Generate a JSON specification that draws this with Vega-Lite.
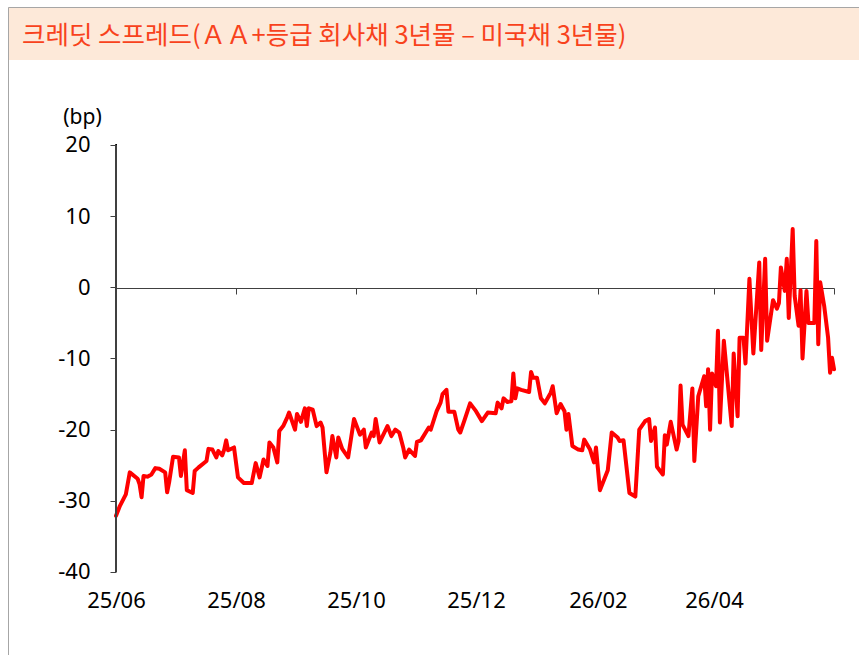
{
  "$schema": "https://vega.github.io/schema/vega-lite/v6.json",
  "background": "white",
  "padding": {"left": 8, "top": 7, "right": 0, "bottom": 0},
  "spacing": 0,
  "bounds": "flush",
  "config": {
    "view": {"stroke": null},
    "font": "Noto Sans",
    "locale": {"number": {"decimal": ".", "thousands": ",", "grouping": [3], "currency": ["", ""], "minus": "-"}}
  },
  "datasets": {
    "spread": [
      {"d": "2025-06-01", "v": -32.1}, {"d": "2025-06-03", "v": -30.7}, {"d": "2025-06-06", "v": -29.1}, {"d": "2025-06-08", "v": -26.0},
      {"d": "2025-06-12", "v": -26.9}, {"d": "2025-06-13", "v": -27.7}, {"d": "2025-06-14", "v": -29.5}, {"d": "2025-06-15", "v": -26.5},
      {"d": "2025-06-17", "v": -26.6}, {"d": "2025-06-19", "v": -26.3}, {"d": "2025-06-21", "v": -25.4}, {"d": "2025-06-23", "v": -25.5},
      {"d": "2025-06-26", "v": -26.0}, {"d": "2025-06-27", "v": -28.8}, {"d": "2025-06-28", "v": -27.4}, {"d": "2025-06-30", "v": -23.8},
      {"d": "2025-07-03", "v": -23.9}, {"d": "2025-07-04", "v": -26.5}, {"d": "2025-07-06", "v": -22.9}, {"d": "2025-07-07", "v": -28.5},
      {"d": "2025-07-10", "v": -28.9}, {"d": "2025-07-11", "v": -25.8}, {"d": "2025-07-13", "v": -25.3}, {"d": "2025-07-17", "v": -24.4},
      {"d": "2025-07-18", "v": -22.7}, {"d": "2025-07-20", "v": -22.8}, {"d": "2025-07-22", "v": -23.9}, {"d": "2025-07-23", "v": -23.0},
      {"d": "2025-07-25", "v": -23.6}, {"d": "2025-07-26", "v": -22.8}, {"d": "2025-07-27", "v": -21.5}, {"d": "2025-07-28", "v": -22.9},
      {"d": "2025-07-31", "v": -22.5}, {"d": "2025-08-02", "v": -26.7}, {"d": "2025-08-05", "v": -27.5}, {"d": "2025-08-09", "v": -27.5},
      {"d": "2025-08-11", "v": -24.7}, {"d": "2025-08-13", "v": -26.7}, {"d": "2025-08-15", "v": -24.2}, {"d": "2025-08-17", "v": -25.1},
      {"d": "2025-08-18", "v": -21.8}, {"d": "2025-08-20", "v": -22.5}, {"d": "2025-08-22", "v": -24.6}, {"d": "2025-08-23", "v": -20.2},
      {"d": "2025-08-25", "v": -19.5}, {"d": "2025-08-27", "v": -18.3}, {"d": "2025-08-28", "v": -17.6}, {"d": "2025-08-31", "v": -20.0},
      {"d": "2025-09-01", "v": -17.8}, {"d": "2025-09-03", "v": -18.9}, {"d": "2025-09-05", "v": -17.0}, {"d": "2025-09-06", "v": -19.5},
      {"d": "2025-09-07", "v": -17.0}, {"d": "2025-09-09", "v": -17.2}, {"d": "2025-09-11", "v": -19.5}, {"d": "2025-09-13", "v": -19.0},
      {"d": "2025-09-14", "v": -19.7}, {"d": "2025-09-16", "v": -26.0}, {"d": "2025-09-18", "v": -23.2}, {"d": "2025-09-19", "v": -20.9},
      {"d": "2025-09-21", "v": -23.9}, {"d": "2025-09-22", "v": -21.1}, {"d": "2025-09-24", "v": -22.7}, {"d": "2025-09-27", "v": -23.9},
      {"d": "2025-09-30", "v": -18.5}, {"d": "2025-10-03", "v": -20.7}, {"d": "2025-10-05", "v": -20.0}, {"d": "2025-10-06", "v": -22.5},
      {"d": "2025-10-09", "v": -20.4}, {"d": "2025-10-10", "v": -20.9}, {"d": "2025-10-11", "v": -18.5}, {"d": "2025-10-13", "v": -21.8},
      {"d": "2025-10-17", "v": -19.5}, {"d": "2025-10-19", "v": -20.9}, {"d": "2025-10-21", "v": -20.0}, {"d": "2025-10-23", "v": -20.4},
      {"d": "2025-10-25", "v": -22.5}, {"d": "2025-10-26", "v": -23.9}, {"d": "2025-10-28", "v": -22.8}, {"d": "2025-10-31", "v": -23.7},
      {"d": "2025-11-01", "v": -21.7}, {"d": "2025-11-03", "v": -21.5}, {"d": "2025-11-07", "v": -19.7}, {"d": "2025-11-08", "v": -20.0},
      {"d": "2025-11-11", "v": -17.4}, {"d": "2025-11-13", "v": -16.2}, {"d": "2025-11-14", "v": -15.0}, {"d": "2025-11-16", "v": -14.4},
      {"d": "2025-11-17", "v": -17.5}, {"d": "2025-11-20", "v": -17.5}, {"d": "2025-11-22", "v": -20.0}, {"d": "2025-11-23", "v": -20.4},
      {"d": "2025-11-25", "v": -18.8}, {"d": "2025-11-28", "v": -16.3}, {"d": "2025-12-01", "v": -17.4}, {"d": "2025-12-04", "v": -18.8},
      {"d": "2025-12-07", "v": -17.6}, {"d": "2025-12-11", "v": -17.7}, {"d": "2025-12-12", "v": -16.2}, {"d": "2025-12-14", "v": -17.0},
      {"d": "2025-12-15", "v": -15.6}, {"d": "2025-12-17", "v": -16.1}, {"d": "2025-12-19", "v": -16.0}, {"d": "2025-12-20", "v": -12.1},
      {"d": "2025-12-21", "v": -15.6}, {"d": "2025-12-22", "v": -14.2}, {"d": "2025-12-24", "v": -14.4}, {"d": "2025-12-28", "v": -14.7},
      {"d": "2025-12-29", "v": -11.9}, {"d": "2025-12-30", "v": -12.7}, {"d": "2026-01-01", "v": -12.7}, {"d": "2026-01-03", "v": -15.6},
      {"d": "2026-01-05", "v": -16.3}, {"d": "2026-01-08", "v": -14.8}, {"d": "2026-01-09", "v": -13.9}, {"d": "2026-01-11", "v": -17.7},
      {"d": "2026-01-13", "v": -16.4}, {"d": "2026-01-15", "v": -17.4}, {"d": "2026-01-16", "v": -20.0}, {"d": "2026-01-17", "v": -17.8},
      {"d": "2026-01-19", "v": -22.3}, {"d": "2026-01-22", "v": -22.8}, {"d": "2026-01-24", "v": -22.9}, {"d": "2026-01-25", "v": -21.4},
      {"d": "2026-01-28", "v": -22.8}, {"d": "2026-01-30", "v": -24.6}, {"d": "2026-01-31", "v": -22.5}, {"d": "2026-02-02", "v": -28.5},
      {"d": "2026-02-06", "v": -25.7}, {"d": "2026-02-08", "v": -20.4}, {"d": "2026-02-11", "v": -21.1}, {"d": "2026-02-12", "v": -21.6},
      {"d": "2026-02-14", "v": -21.5}, {"d": "2026-02-17", "v": -28.9}, {"d": "2026-02-20", "v": -29.4}, {"d": "2026-02-22", "v": -20.0},
      {"d": "2026-02-25", "v": -18.8}, {"d": "2026-02-27", "v": -18.5}, {"d": "2026-02-28", "v": -21.6}, {"d": "2026-03-02", "v": -19.7},
      {"d": "2026-03-03", "v": -25.2}, {"d": "2026-03-06", "v": -26.3}, {"d": "2026-03-07", "v": -20.8}, {"d": "2026-03-08", "v": -22.1},
      {"d": "2026-03-10", "v": -18.9}, {"d": "2026-03-13", "v": -22.8}, {"d": "2026-03-14", "v": -21.6}, {"d": "2026-03-15", "v": -13.8},
      {"d": "2026-03-16", "v": -19.3}, {"d": "2026-03-19", "v": -20.9}, {"d": "2026-03-21", "v": -14.2}, {"d": "2026-03-22", "v": -24.4},
      {"d": "2026-03-24", "v": -15.3}, {"d": "2026-03-27", "v": -12.5}, {"d": "2026-03-28", "v": -16.7}, {"d": "2026-03-29", "v": -11.5},
      {"d": "2026-03-30", "v": -20.0}, {"d": "2026-03-31", "v": -12.1}, {"d": "2026-04-02", "v": -13.9}, {"d": "2026-04-03", "v": -6.1},
      {"d": "2026-04-04", "v": -19.0}, {"d": "2026-04-06", "v": -7.5}, {"d": "2026-04-10", "v": -19.5}, {"d": "2026-04-11", "v": -9.3},
      {"d": "2026-04-13", "v": -18.1}, {"d": "2026-04-14", "v": -7.1}, {"d": "2026-04-16", "v": -7.1}, {"d": "2026-04-17", "v": -10.7},
      {"d": "2026-04-19", "v": 1.2}, {"d": "2026-04-21", "v": -9.3}, {"d": "2026-04-24", "v": 3.5}, {"d": "2026-04-25", "v": -8.8},
      {"d": "2026-04-27", "v": 4.0}, {"d": "2026-04-28", "v": -7.5}, {"d": "2026-05-01", "v": -1.8}, {"d": "2026-05-03", "v": -3.0},
      {"d": "2026-05-04", "v": -2.2}, {"d": "2026-05-05", "v": 2.8}, {"d": "2026-05-07", "v": -0.5}, {"d": "2026-05-08", "v": 4.0},
      {"d": "2026-05-09", "v": -4.3}, {"d": "2026-05-11", "v": 8.2}, {"d": "2026-05-12", "v": -1.2}, {"d": "2026-05-14", "v": -5.4},
      {"d": "2026-05-15", "v": -0.4}, {"d": "2026-05-16", "v": -10.0}, {"d": "2026-05-18", "v": -0.5}, {"d": "2026-05-19", "v": -5.0},
      {"d": "2026-05-22", "v": -5.0}, {"d": "2026-05-23", "v": 6.5}, {"d": "2026-05-24", "v": -8.0}, {"d": "2026-05-25", "v": 0.7},
      {"d": "2026-05-27", "v": -2.6}, {"d": "2026-05-29", "v": -7.1}, {"d": "2026-05-30", "v": -12.0}, {"d": "2026-05-31", "v": -9.9},
      {"d": "2026-06-01", "v": -11.5}
    ]
  },
  "vconcat": [
    {
      "width": 851,
      "height": 53,
      "view": {"fill": "#FDE9D9", "stroke": null},
      "data": {"values": [{"t": "크레딧 스프레드(ＡＡ+등급 회사채 3년물 – 미국채 3년물)"}]},
      "mark": {
        "type": "text",
        "align": "left",
        "baseline": "middle",
        "dx": 14,
        "dy": 2,
        "fontSize": 25.5,
        "font": "Noto Sans CJK KR",
        "fontWeight": "normal",
        "color": "#F8421C"
      },
      "encoding": {
        "text": {"field": "t", "type": "nominal"},
        "x": {
          "datum": 0,
          "type": "quantitative",
          "scale": {"domain": [0, 1], "nice": false, "zero": false},
          "axis": {"orient": "top", "domain": true, "domainColor": "#A6A6A6", "ticks": false, "labels": false, "grid": false, "title": null}
        }
      }
    },
    {
      "width": 851,
      "height": 595,
      "view": {"fill": "white", "stroke": null},
      "data": {"name": "spread"},
      "layer": [
        {
          "mark": {"type": "line", "color": "#FF0000", "strokeWidth": 4, "strokeJoin": "round", "strokeCap": "round"},
          "encoding": {
            "x": {
              "field": "d",
              "type": "temporal",
              "scale": {"domain": [{"year": 2025, "month": 6, "date": 1}, {"year": 2026, "month": 6, "date": 1}], "range": [108, 826]},
              "axis": {
                "orient": "bottom",
                "offset": -83,
                "domain": false,
                "ticks": false,
                "grid": false,
                "title": null,
                "labelFlush": false,
                "labelOverlap": false,
                "labelPadding": 18,
                "labelFontSize": 22,
                "labelColor": "#000000",
                "labelFont": "Noto Sans",
                "format": "%y/%m",
                "values": [
                  {"year": 2025, "month": 6, "date": 1}, {"year": 2025, "month": 8, "date": 1}, {"year": 2025, "month": 10, "date": 1},
                  {"year": 2025, "month": 12, "date": 1}, {"year": 2026, "month": 2, "date": 1}, {"year": 2026, "month": 4, "date": 1}
                ]
              }
            },
            "y": {
              "field": "v",
              "type": "quantitative",
              "scale": {"domain": [-51.663, 39.391], "range": [595, -53], "nice": false, "zero": false},
              "axis": {
                "orient": "left",
                "offset": -108,
                "domain": false,
                "grid": false,
                "ticks": true,
                "tickSize": 6,
                "tickColor": "#404040",
                "values": [-40, -30, -20, -10, 0, 10, 20],
                "labelPadding": 20,
                "labelFontSize": 22,
                "labelColor": "#000000",
                "labelFont": "Noto Sans",
                "title": "(bp)",
                "titleAngle": 0,
                "titleX": -34,
                "titleY": 57,
                "titleAlign": "center",
                "titleBaseline": "middle",
                "titleFontSize": 21,
                "titleFontWeight": "normal",
                "titleFont": "Noto Sans",
                "titleColor": "#000000"
              }
            }
          }
        },
        {
          "mark": {"type": "rule", "color": "#404040", "strokeWidth": 1},
          "encoding": {
            "x": {
              "datum": {"year": 2025, "month": 6, "date": 1},
              "type": "temporal",
              "axis": {
                "orient": "bottom",
                "offset": -367,
                "domain": true,
                "domainColor": "#404040",
                "ticks": true,
                "tickSize": 6,
                "tickColor": "#404040",
                "labels": false,
                "grid": false,
                "title": null,
                "values": [
                  {"year": 2025, "month": 6, "date": 1}, {"year": 2025, "month": 8, "date": 1}, {"year": 2025, "month": 10, "date": 1},
                  {"year": 2025, "month": 12, "date": 1}, {"year": 2026, "month": 2, "date": 1}, {"year": 2026, "month": 4, "date": 1},
                  {"year": 2026, "month": 6, "date": 1}
                ]
              }
            },
            "y": {
              "datum": -40,
              "type": "quantitative",
              "axis": {
                "orient": "left",
                "offset": 0,
                "domain": true,
                "domainColor": "#A6A6A6",
                "ticks": false,
                "labels": false,
                "grid": false,
                "title": null
              }
            },
            "y2": {"datum": 20}
          }
        }
      ],
      "resolve": {"axis": {"x": "independent", "y": "independent"}}
    }
  ]
}
